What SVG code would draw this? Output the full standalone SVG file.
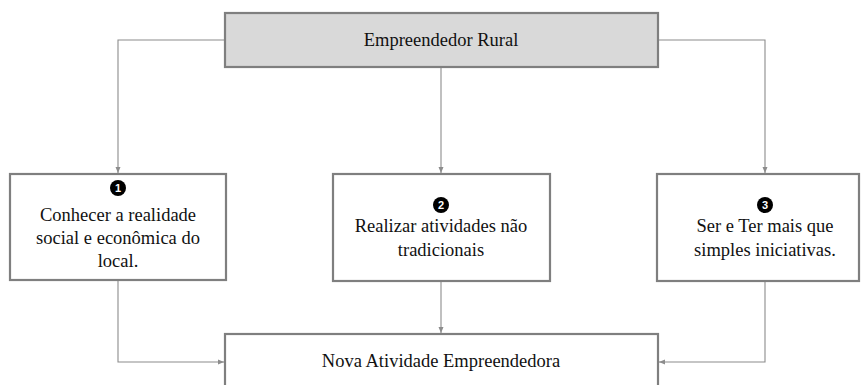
<svg xmlns="http://www.w3.org/2000/svg" width="862" height="385" viewBox="0 0 862 385">
<style>
.box{fill:#fff;stroke:#7f7f7f;stroke-width:2.2}
.top{fill:#d9d9d9}
.t{font-family:"Liberation Serif","Times New Roman",serif;font-size:18.5px;fill:#111;text-anchor:middle}
.n{font-family:"Liberation Sans",Arial,sans-serif;font-size:11px;font-weight:bold;fill:#fff;text-anchor:middle}
.c{fill:none;stroke:#8c8c8c;stroke-width:1.1}
</style>
<defs>
<marker id="a" markerWidth="8" markerHeight="8" refX="7" refY="4" orient="auto" markerUnits="userSpaceOnUse">
<path d="M1,1.5 L7,4 L1,6.5 Z" fill="#8c8c8c"/>
</marker>
</defs>
<g id="connectors">
<path class="c" d="M225,40 H118 V173" marker-end="url(#a)"/>
<path class="c" d="M441,67 V173" marker-end="url(#a)"/>
<path class="c" d="M658,40 H765 V173" marker-end="url(#a)"/>
<path class="c" d="M118,281 V362 H224" marker-end="url(#a)"/>
<path class="c" d="M441,282 V333" marker-end="url(#a)"/>
<path class="c" d="M765,282 V362 H659" marker-end="url(#a)"/>
</g>
<g id="n0">
<rect class="box top" x="225" y="13" width="433" height="54"/>
<text class="t" x="441" y="46">Empreendedor Rural</text>
</g>
<g id="n1">
<rect class="box" x="10" y="174" width="216" height="106"/>
<circle cx="118" cy="188" r="8" fill="#000"/>
<text class="n" x="118" y="192">1</text>
<text class="t" x="118" y="221">Conhecer a realidade</text>
<text class="t" x="118" y="244">social e econômica do</text>
<text class="t" x="118" y="267">local.</text>
</g>
<g id="n2">
<rect class="box" x="333" y="174" width="217" height="107"/>
<circle cx="441" cy="205" r="8" fill="#000"/>
<text class="n" x="441" y="209">2</text>
<text class="t" x="441" y="232">Realizar atividades não</text>
<text class="t" x="441" y="256">tradicionais</text>
</g>
<g id="n3">
<rect class="box" x="657" y="174" width="202" height="107"/>
<circle cx="765" cy="205" r="8" fill="#000"/>
<text class="n" x="765" y="209">3</text>
<text class="t" x="765" y="232">Ser e Ter mais que</text>
<text class="t" x="765" y="256">simples iniciativas.</text>
</g>
<g id="n4">
<rect class="box" x="225" y="334" width="433" height="60"/>
<text class="t" x="441" y="367">Nova Atividade Empreendedora</text>
</g>
</svg>
